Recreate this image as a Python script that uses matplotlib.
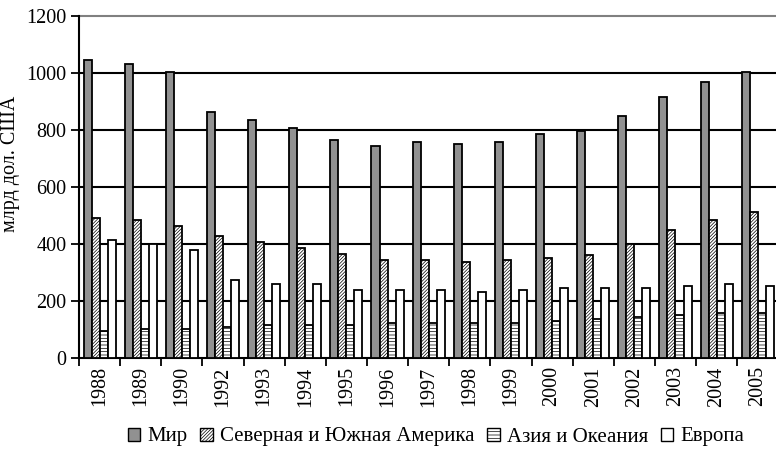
import matplotlib
matplotlib.use("Agg")
import matplotlib.pyplot as plt
import numpy as np

plt.rcParams['font.family'] = ['Liberation Serif', 'DejaVu Serif']
plt.rcParams['hatch.linewidth'] = 0.5
plt.rcParams['hatch.color'] = '#555555'

years = ["1988", "1989", "1990", "1992", "1993", "1994", "1995", "1996", "1997",
         "1998", "1999", "2000", "2001", "2002", "2003", "2004", "2005"]
world = [1046, 1032, 1005, 864, 836, 808, 766, 745, 759, 752, 759, 787, 797, 850, 915, 970, 1005]
americas = [492, 485, 464, 428, 408, 387, 366, 345, 345, 338, 345, 352, 360, 399, 449, 485, 512]
asia = [95, 102, 102, 109, 116, 116, 116, 123, 123, 123, 123, 131, 136, 144, 151, 159, 159]
europe = [415, 399, 380, 275, 261, 261, 240, 240, 240, 233, 240, 247, 247, 247, 254, 261, 254]
series_names = ["Мир", "Северная и Южная Америка", "Азия и Океания", "Европа"]

fig = plt.figure(figsize=(7.76, 4.55), dpi=100)
ax = fig.add_axes([79/776, 1 - 358/455, 1 - 79/776 + 0.003, 342/455])

n = len(years)
x = np.arange(n)
w = 0.195
off = 0.11
styles = [
    dict(color="#919191", hatch=None),
    dict(color="white", hatch="//////////"),
    dict(color="white", hatch="-----"),
    dict(color="white", hatch=None),
]
data = [world, americas, asia, europe]
for k, (vals, st) in enumerate(zip(data, styles)):
    ax.bar(x + off + k * w, vals, width=w, align="edge", color=st["color"],
           edgecolor="black", linewidth=1.3, hatch=st["hatch"],
           label=series_names[k], zorder=3)

ax.set_ylim(0, 1200)
ax.set_xlim(0, 16.97)
ax.set_yticks(range(0, 1201, 200))
for yv in range(200, 1001, 200):
    ax.axhline(yv, color="black", linewidth=1.5, zorder=1)
ax.axhline(1200, color="#808080", linewidth=1.5, zorder=1, clip_on=False)

ax.set_xticks(np.arange(n) + 0.5, labels=years, rotation=90, fontsize=14.5)
ax.set_xticks(np.arange(n + 1), minor=True)
ax.tick_params(axis="x", which="major", length=0, pad=6)
ax.tick_params(axis="x", which="minor", length=6, width=1.3, direction="out")
ax.tick_params(axis="y", length=6, width=1.3, direction="out", labelsize=14.5, pad=3)

for s in ["top", "right"]:
    ax.spines[s].set_visible(False)
ax.spines["left"].set_linewidth(1.5)
ax.spines["bottom"].set_linewidth(1.5)
ax.set_ylabel("млрд дол. США", fontsize=14.5)
ax.yaxis.set_label_coords(-0.085, 0.567)

leg = fig.legend(loc="center", bbox_to_anchor=(436/776, 1 - 437/455), ncol=4,
                 frameon=False, fontsize=15, handlelength=0.6, handleheight=0.6,
                 handletextpad=0.35, columnspacing=0.6, borderpad=0)
for h in leg.legend_handles:
    h.set_linewidth(1.0)

fig.savefig("out.png", dpi=100)
